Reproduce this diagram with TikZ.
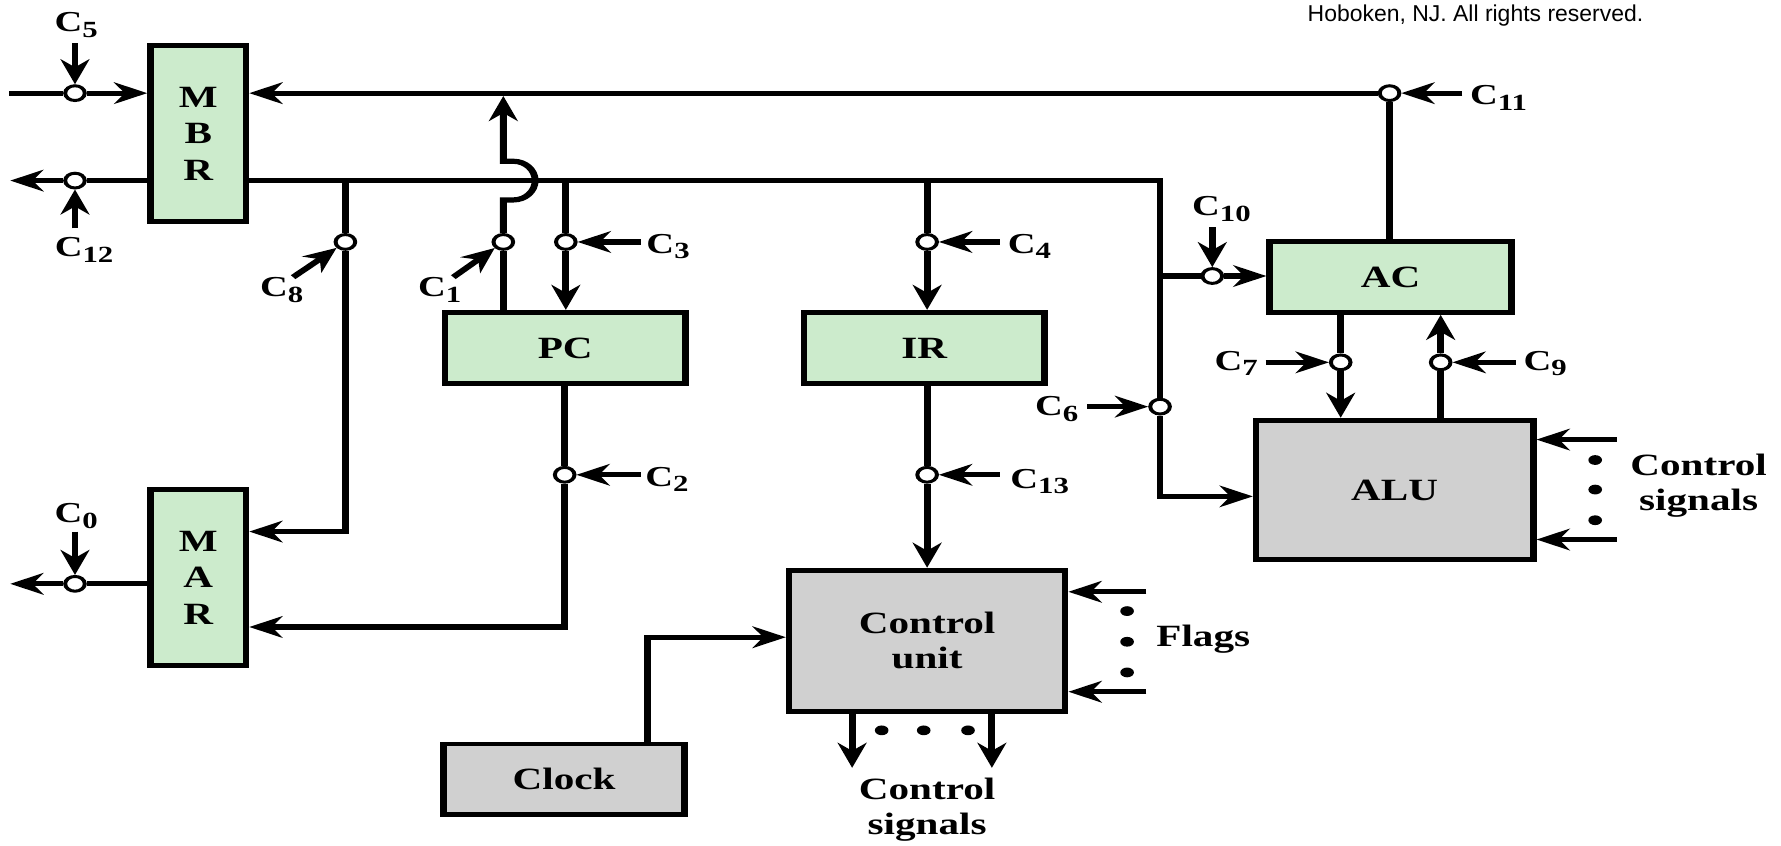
\documentclass[tikz,border=0pt]{standalone}
\usepackage{fontspec}
\setmainfont{Liberation Serif}
\newfontfamily\copyf{Liberation Sans}
\usetikzlibrary{arrows.meta}
\definecolor{regG}{RGB}{204,235,204}
\definecolor{boxG}{RGB}{208,208,208}
\newcommand\CL[1]{C\raisebox{-2.9pt}{\fontsize{11.6}{11.6}\selectfont #1}}
\tikzset{
 box/.style={draw, line width=2.5pt, inner sep=0pt, font=\fontsize{15.5}{17.6}\selectfont\bfseries, align=center},
 reg/.style={box, fill=regG},
 gbox/.style={box, fill=boxG},
 jn/.style={circle, draw, fill=white, line width=1.5pt, inner sep=0pt, minimum size=0.26cm},
 lbl/.style={font=\fontsize{14.5}{15}\selectfont\bfseries, inner sep=0pt},
 txt/.style={font=\fontsize{15.5}{17.6}\selectfont\bfseries, align=center, inner sep=0pt},
 wire/.style={line width=2.6pt},
 arr/.style={line width=2.6pt, -{Stealth[length=12.5pt,width=10.8pt,inset=4pt]}},
}
\begin{document}
\begin{tikzpicture}[x=0.02cm,y=-0.02cm]
\useasboundingbox (0,0) rectangle (1568,744);
\node[font=\copyf\fontsize{11.5}{13}\selectfont, anchor=base, inner sep=0pt] (copy) at (1299,18.5) {Hoboken, NJ. All rights reserved.};
\begin{scope}[transform canvas={xscale=1.33}, x=0.0150376cm, y=-0.02cm]
% boxes
\node[reg, font=\fontsize{15.5}{18.3}\selectfont\bfseries, minimum width=1.263cm, minimum height=3.10cm] (MBR) at (174.5,117.5) {M\\B\\R};
\node[reg, font=\fontsize{15.5}{18.3}\selectfont\bfseries, minimum width=1.263cm, minimum height=3.10cm] (MAR) at (174.5,508.5) {M\\A\\R};
\node[reg, minimum width=3.188cm, minimum height=1.26cm] (PC) at (497.5,306.5) {PC};
\node[reg, minimum width=3.188cm, minimum height=1.26cm] (IR) at (813.5,306.5) {IR};
\node[reg, minimum width=3.203cm, minimum height=1.24cm] (AC) at (1224,244) {AC};
\node[gbox, minimum width=3.669cm, minimum height=2.46cm] (ALU) at (1227.5,431.5) {ALU};
\node[gbox, minimum width=3.654cm, minimum height=2.48cm] (CU) at (816,564) {Control\\unit};
\node[gbox, minimum width=3.188cm, minimum height=1.24cm] (Clock) at (496.5,686) {Clock};
% junction circles
\node[jn] (j5) at (66,82) {};
\node[jn] (j12) at (66,159) {};
\node[jn] (j0) at (66,514) {};
\node[jn] (j8) at (304,213) {};
\node[jn] (j1) at (443,213) {};
\node[jn] (j3) at (498,213) {};
\node[jn] (j4) at (816,213) {};
\node[jn] (j2) at (497,418) {};
\node[jn] (j13) at (816,418) {};
\node[jn] (j6) at (1021,358) {};
\node[jn] (j10) at (1067,243) {};
\node[jn] (j11) at (1223,82) {};
\node[jn] (j7) at (1180,319) {};
\node[jn] (j9) at (1268,319) {};
% labels
\node[lbl] (C5) at (67,22) {\CL{5}};
\node[lbl] (C12) at (74,220) {\CL{12}};
\node[lbl] (C0) at (67,454) {\CL{0}};
\node[lbl] (C8) at (248,255) {\CL{8}};
\node[lbl] (C1) at (387,255) {\CL{1}};
\node[lbl] (C3) at (588,217) {\CL{3}};
\node[lbl] (C4) at (906,217) {\CL{4}};
\node[lbl] (C2) at (587,422) {\CL{2}};
\node[lbl] (C13) at (915,424) {\CL{13}};
\node[lbl] (C6) at (930,360) {\CL{6}};
\node[lbl] (C7) at (1088,320) {\CL{7}};
\node[lbl] (C9) at (1360,320) {\CL{9}};
\node[lbl] (C10) at (1075,184) {\CL{10}};
\node[lbl] (C11) at (1319,86) {\CL{11}};
\node[txt] (cs1) at (1495,427.5) {Control\\signals};
\node[txt] (flags) at (1059,563) {Flags};
\node[txt] (cs2) at (816,712.5) {Control\\signals};
% coordinates
\coordinate (in5) at (8,82);
\coordinate (out12) at (9,159);
\coordinate (out0) at (9,514);
\coordinate (t8) at (304,159);
\coordinate (k8) at (304,468);
\coordinate (t1) at (443,84.5);
\coordinate (b1lo) at (443,176);
\coordinate (b1hi) at (443,142);
\coordinate (t3) at (498,159);
\coordinate (t4) at (816,159);
\coordinate (k2) at (497,552);
\coordinate (k6) at (1021,159);
\coordinate (t10) at (1021,243);
\coordinate (k6b) at (1021,437);
\coordinate (k12) at (570,561);
\coordinate (o1) at (750,676);
\coordinate (o2) at (873,676);
\coordinate (f1) at (1009,521);
\coordinate (f2) at (1009,609);
\coordinate (a1) at (1423,387);
\coordinate (a2) at (1423,475);
\coordinate (s5) at (66,38);
\coordinate (s12) at (66,201);
\coordinate (s0) at (66,468);
\coordinate (s8) at (258,244);
\coordinate (s1) at (399,244);
\coordinate (s3) at (564,213);
\coordinate (s4) at (880,213);
\coordinate (s2) at (564,418);
\coordinate (s13) at (880,418);
\coordinate (s6) at (957,358);
\coordinate (s7) at (1114,319);
\coordinate (s9) at (1334,319);
\coordinate (s10) at (1067,200);
\coordinate (s11) at (1287,82);
% wires
\draw[wire] (in5) -- (j5);
\draw[arr] (j5) -- (MBR.west |- j5);
\draw[arr] (j11) -- (MBR.east |- j11);
\draw[wire] (j11) -- (j11 |- AC.north);
\draw[wire] (MBR.west |- j12) -- (j12);
\draw[arr] (j12) -- (out12);
\draw[wire] (MBR.east |- k6) -- (k6) -- (j6);
\draw[arr] (j6) -- (k6b) -- (ALU.west |- k6b);
\draw[wire] (t10) -- (j10);
\draw[arr] (j10) -- (AC.west |- j10);
\draw[wire] (t8) -- (j8);
\draw[arr] (j8) -- (k8) -- (MAR.east |- k8);
\draw[wire] (j1 |- PC.north) -- (j1);
\draw[arr] (j1) -- (b1lo) -- ++(9,0) arc[start angle=90, end angle=-90, x radius=19, y radius=17] -- (b1hi) -- (t1);
\draw[wire] (t3) -- (j3);
\draw[arr] (j3) -- (j3 |- PC.north);
\draw[wire] (t4) -- (j4);
\draw[arr] (j4) -- (j4 |- IR.north);
\draw[wire] (j2 |- PC.south) -- (j2);
\draw[arr] (j2) -- (k2) -- (MAR.east |- k2);
\draw[wire] (j13 |- IR.south) -- (j13);
\draw[arr] (j13) -- (j13 |- CU.north);
\draw[wire] (MAR.west |- j0) -- (j0);
\draw[arr] (j0) -- (out0);
\draw[wire] (j7 |- AC.south) -- (j7);
\draw[arr] (j7) -- (j7 |- ALU.north);
\draw[wire] (j9 |- ALU.north) -- (j9);
\draw[arr] (j9) -- (j9 |- AC.south);
\draw[arr] (Clock.north -| k12) -- (k12) -- (CU.west |- k12);
\draw[arr] (CU.south -| o1) -- (o1);
\draw[arr] (CU.south -| o2) -- (o2);
\draw[arr] (f1) -- (CU.east |- f1);
\draw[arr] (f2) -- (CU.east |- f2);
\draw[arr] (a1) -- (ALU.east |- a1);
\draw[arr] (a2) -- (ALU.east |- a2);
% control arrows
\draw[arr] (s5) -- (j5);
\draw[arr] (s12) -- (j12);
\draw[arr] (s0) -- (j0);
\draw[arr] (s8) -- (j8);
\draw[arr] (s1) -- (j1);
\draw[arr] (s3) -- (j3);
\draw[arr] (s4) -- (j4);
\draw[arr] (s2) -- (j2);
\draw[arr] (s13) -- (j13);
\draw[arr] (s6) -- (j6);
\draw[arr] (s7) -- (j7);
\draw[arr] (s9) -- (j9);
\draw[arr] (s10) -- (j10);
\draw[arr] (s11) -- (j11);
% dots
\foreach \yy in {405,431,458} \fill (1404,\yy) ellipse[x radius=6, y radius=4.3];
\foreach \yy in {538,565,592} \fill (992,\yy) ellipse[x radius=6, y radius=4.3];
\foreach \xx in {776,813,852} \fill (\xx,643) ellipse[x radius=6, y radius=4.3];
\end{scope}
\end{tikzpicture}
\end{document}
